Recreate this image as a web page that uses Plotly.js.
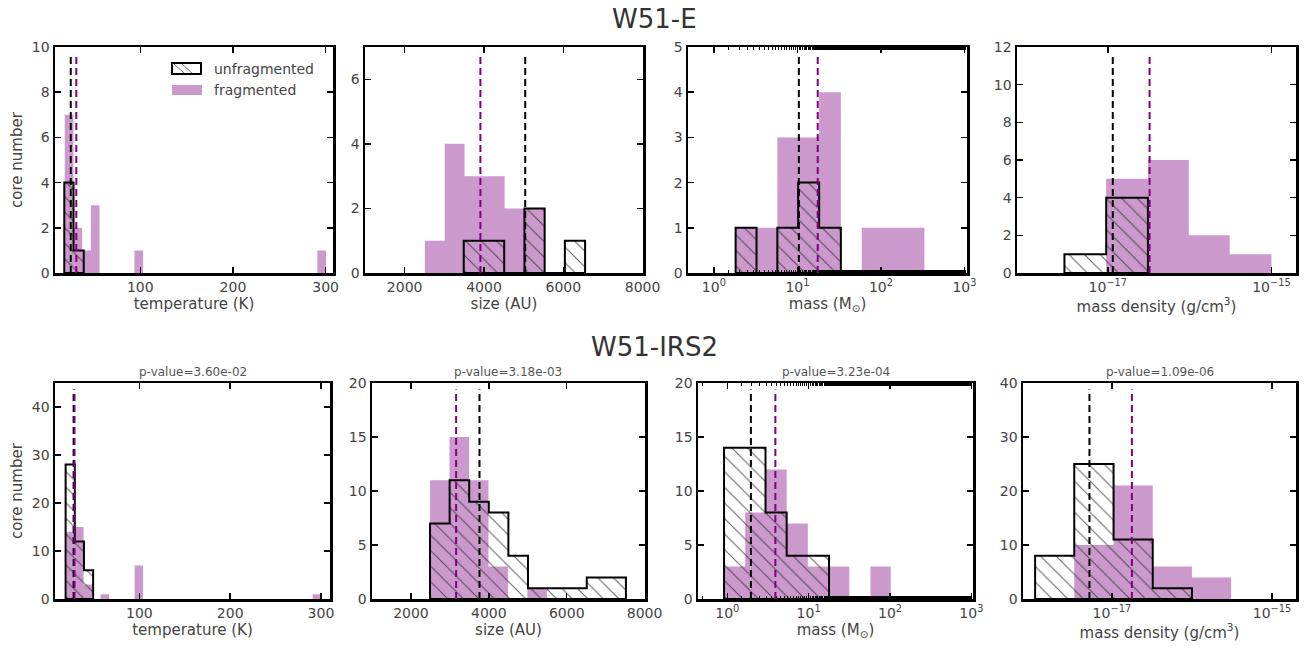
<!DOCTYPE html>
<html><head><meta charset="utf-8">
<script src="https://cdn.plot.ly/plotly-3.0.1.min.js"></script>
<style>html,body{margin:0;padding:0;background:#fff}#chart{width:1308px;height:652px}</style>
</head><body><div id="chart"></div>
<script>
// ---------------- W51-E (top row) ----------------
const eTempUnfragEdges = [18, 28, 39];
const eTempUnfragCounts = [4, 1];
const eTempFragEdges = [18.5, 27.9, 37.3, 46.7, 56.1, 93.7, 103.1, 291.1, 300.5];
const eTempFragCounts = [7, 2, 1, 3, 0, 1, 0, 1];
const eSizeUnfragEdges = [3490, 4000, 4510, 5020, 5530, 6040, 6550];
const eSizeUnfragCounts = [1, 1, 0, 2, 0, 1];
const eSizeFragEdges = [2510, 3010, 3510, 4020, 4520, 5020, 5520];
const eSizeFragCounts = [1, 4, 3, 3, 2, 2];
const eMassUnfragEdges = [1.82, 3.24, 5.75, 10.2, 18.2, 33.1];
const eMassUnfragCounts = [1, 0, 1, 2, 1];
const eMassFragEdges = [1.82, 3.24, 5.75, 10.2, 18.2, 33.1, 58.9, 104.7, 186, 331];
const eMassFragCounts = [1, 1, 3, 3, 4, 0, 1, 1, 1];
const eDensUnfragEdges = [2.95e-18, 9.55e-18, 3.09e-17];
const eDensUnfragCounts = [1, 4];
const eDensFragEdges = [9.55e-18, 3.09e-17, 9.77e-17, 3.09e-16, 1.0e-15];
const eDensFragCounts = [5, 6, 2, 1];
const eMedianUnfrag = [25, 5040, 10.4, 1.15e-17];
const eMedianFrag = [31, 3910, 17.5, 3.24e-17];

// ---------------- W51-IRS2 (bottom row) ----------------
const iTempUnfragEdges = [18.7, 28.8, 38.9, 49];
const iTempUnfragCounts = [28, 12, 6];
const iTempFragEdges = [19.8, 29.2, 38.5, 47.9, 57.2, 66.6, 94.7, 104.0, 290.9, 300.2];
const iTempFragCounts = [14, 15, 3, 0, 1, 0, 7, 0, 1];
const iSizeUnfragEdges = [2490, 2993, 3496, 3999, 4502, 5005, 5508, 6011, 6514, 7017, 7520];
const iSizeUnfragCounts = [7, 11, 9, 8, 4, 1, 1, 1, 2, 2];
const iSizeFragEdges = [2490, 2990, 3490, 3990, 4490, 4990, 5490];
const iSizeFragCounts = [11, 15, 11, 3, 0, 1];
const iMassUnfragEdges = [0.912, 1.66, 2.95, 5.37, 9.77, 17.8];
const iMassUnfragCounts = [14, 14, 8, 4, 4];
const iMassFragEdges = [0.912, 1.66, 2.95, 5.37, 9.77, 17.8, 31.6, 57.5, 102];
const iMassFragCounts = [3, 8, 12, 7, 3, 3, 0, 3];
const iDensUnfragEdges = [1.10e-18, 3.39e-18, 1.05e-17, 3.24e-17, 1.0e-16];
const iDensUnfragCounts = [8, 25, 11, 2];
const iDensFragEdges = [3.39e-18, 1.05e-17, 3.24e-17, 1.0e-16, 3.09e-16];
const iDensFragCounts = [10, 21, 6, 4];
const iMedianUnfrag = [27.5, 3760, 1.95, 5.25e-18];
const iMedianFrag = [28.5, 3160, 3.9, 1.78e-17];

const rowTitles = ['W51-E', 'W51-IRS2'];
const pValues = ['p-value=3.60e-02', 'p-value=3.18e-03', 'p-value=3.23e-04', 'p-value=1.09e-06'];
const xTitles = ['temperature (K)', 'size (AU)', 'mass (M<sub>⊙</sub>)', 'mass density (g/cm<sup>3</sup>)'];
const yTitle = 'core number';
const legendLabels = ['unfragmented', 'fragmented'];
const massTickVals = [1, 10, 100, 1000];
const massTickText = ['10<sup>0</sup>', '10<sup>1</sup>', '10<sup>2</sup>', '10<sup>3</sup>'];
const densTickVals = [1e-17, 1e-15];
const densTickText = ['10<sup>−17</sup>', '10<sup>−15</sup>'];

// ---------------- layout geometry (pixels) ----------------
const W = 1308, H = 652;
const panels = [
  {x: [55, 333], y: [47, 273]}, {x: [365, 643], y: [47, 273]},
  {x: [688, 967], y: [47, 273]}, {x: [1017, 1296], y: [47, 273]},
  {x: [55, 330], y: [383, 599]}, {x: [372, 645], y: [383, 599]},
  {x: [698, 973], y: [383, 599]}, {x: [1023, 1296], y: [383, 599]}
];
const PURPLE = '#800080';
const PURPLE_FILL = 'rgba(128,0,128,0.4)';
const FONT = 'DejaVu Sans';

function step(edges, counts) {
  const xs = [edges[0]], ys = [0];
  for (let i = 0; i < counts.length; i++) {
    xs.push(edges[i], edges[i + 1]);
    ys.push(counts[i], counts[i]);
  }
  xs.push(edges[edges.length - 1]); ys.push(0);
  xs.push(edges[0]); ys.push(0);
  return {xs, ys};
}

const hists = [
  [eTempFragEdges, eTempFragCounts, eTempUnfragEdges, eTempUnfragCounts],
  [eSizeFragEdges, eSizeFragCounts, eSizeUnfragEdges, eSizeUnfragCounts],
  [eMassFragEdges, eMassFragCounts, eMassUnfragEdges, eMassUnfragCounts],
  [eDensFragEdges, eDensFragCounts, eDensUnfragEdges, eDensUnfragCounts],
  [iTempFragEdges, iTempFragCounts, iTempUnfragEdges, iTempUnfragCounts],
  [iSizeFragEdges, iSizeFragCounts, iSizeUnfragEdges, iSizeUnfragCounts],
  [iMassFragEdges, iMassFragCounts, iMassUnfragEdges, iMassUnfragCounts],
  [iDensFragEdges, iDensFragCounts, iDensUnfragEdges, iDensUnfragCounts]
];
const medUnfrag = eMedianUnfrag.concat(iMedianUnfrag);
const medFrag = eMedianFrag.concat(iMedianFrag);

const xRanges = [[8, 308], [1000, 8010], [-0.31, 3.03], [-18.11, -14.7],
                 [7, 310], [1000, 8010], [-0.36, 3.02], [-18.11, -14.7]];
const xTypes = ['linear', 'linear', 'log', 'log', 'linear', 'linear', 'log', 'log'];
const yRanges = [[0, 10], [0, 7], [0, 5], [0, 12], [0, 45], [0, 20], [0, 20], [0, 40]];
const yDticks = [2, 2, 1, 2, 10, 5, 5, 10];

const data = [];
const shapes = [];
const annotations = [];
const layout = {
  width: W, height: H, margin: {l: 0, r: 0, t: 0, b: 0},
  paper_bgcolor: 'white', plot_bgcolor: 'white', showlegend: false,
  font: {family: FONT, color: '#333'}
};

for (let k = 0; k < 8; k++) {
  const id = k + 1;
  const xa = 'x' + id, ya = 'y' + id;
  const p = panels[k];
  const [fe, fc, ue, uc] = hists[k];
  const f = step(fe, fc), u = step(ue, uc);
  data.push({type: 'scatter', mode: 'lines', x: f.xs, y: f.ys, xaxis: xa, yaxis: ya,
    fill: 'toself', fillcolor: PURPLE_FILL, line: {width: 0, color: PURPLE_FILL},
    hoverinfo: 'skip', name: legendLabels[1]});
  data.push({type: 'scatter', mode: 'lines', x: u.xs, y: u.ys, xaxis: xa, yaxis: ya,
    fill: 'toself', fillcolor: 'rgba(0,0,0,0)',
    fillpattern: {shape: '\\', fgcolor: 'rgba(40,40,40,0.7)', bgcolor: 'rgba(0,0,0,0)', size: 11, solidity: 0.1},
    line: {width: 2, color: 'black'}, hoverinfo: 'skip', name: legendLabels[0]});

  const col = k % 4;
  const xaxis = {
    domain: [p.x[0] / W, p.x[1] / W], anchor: ya, type: xTypes[k], range: xRanges[k],
    showline: true, linecolor: 'black', linewidth: 2.5, mirror: 'allticks',
    ticks: 'inside', ticklen: 6, tickwidth: 1.5, tickcolor: 'black',
    showgrid: false, zeroline: false,
    tickfont: {family: FONT, size: 14, color: '#444'},
    title: {text: xTitles[col], font: {family: FONT, size: 15, color: '#444'}, standoff: 2}
  };
  if (col === 0) { xaxis.tickvals = [100, 200, 300]; }
  if (col === 1) { xaxis.tickvals = [2000, 4000, 6000, 8000]; }
  if (col === 2) {
    xaxis.tickvals = massTickVals; xaxis.ticktext = massTickText;
    xaxis.minor = {ticks: 'inside', ticklen: 3, tickwidth: 1, tickcolor: 'black', showgrid: false};
  }
  if (col === 3) { xaxis.tickvals = densTickVals; xaxis.ticktext = densTickText; }
  const yaxis = {
    domain: [1 - p.y[1] / H, 1 - p.y[0] / H], anchor: xa, range: yRanges[k], dtick: yDticks[k],
    showline: true, linecolor: 'black', linewidth: 2.5, mirror: 'allticks',
    ticks: 'inside', ticklen: 6, tickwidth: 1.5, tickcolor: 'black',
    showgrid: false, zeroline: false,
    tickfont: {family: FONT, size: 14, color: '#444'}
  };
  if (col === 0) yaxis.title = {text: yTitle, font: {family: FONT, size: 15, color: '#444'}, standoff: 6};
  layout['xaxis' + (id === 1 ? '' : id)] = xaxis;
  layout['yaxis' + (id === 1 ? '' : id)] = yaxis;

  // medians
  shapes.push({type: 'line', xref: xa, yref: ya + ' domain', x0: medUnfrag[k], x1: medUnfrag[k], y0: 0, y1: 0.97,
    line: {color: 'black', width: 2, dash: '7px,4px'}});
  shapes.push({type: 'line', xref: xa, yref: ya + ' domain', x0: medFrag[k], x1: medFrag[k], y0: 0, y1: 0.97,
    line: {color: PURPLE, width: 2, dash: '7px,4px'}});

  if (k >= 4) {
    annotations.push({text: pValues[k - 4], xref: 'paper', yref: 'paper',
      x: (p.x[0] + p.x[1]) / 2 / W, y: 1 - (p.y[0] - 2) / H, xanchor: 'center', yanchor: 'bottom',
      showarrow: false, font: {family: FONT, size: 12, color: '#555'}});
  }
}

// row titles
annotations.push({text: rowTitles[0], xref: 'paper', yref: 'paper', x: 654 / W, y: 1 - 19 / H,
  xanchor: 'center', yanchor: 'middle', showarrow: false, font: {family: FONT, size: 26, color: '#333'}});
annotations.push({text: rowTitles[1], xref: 'paper', yref: 'paper', x: 654 / W, y: 1 - 347 / H,
  xanchor: 'center', yanchor: 'middle', showarrow: false, font: {family: FONT, size: 26, color: '#333'}});

// manual legend in the first panel
function px(x) { return x / W; }
function py(y) { return 1 - y / H; }
shapes.push({type: 'rect', xref: 'paper', yref: 'paper', x0: px(172), x1: px(201), y0: py(74), y1: py(63),
  line: {color: 'black', width: 2}, fillcolor: 'rgba(0,0,0,0)'});
shapes.push({type: 'path', xref: 'paper', yref: 'paper',
  path: 'M ' + px(182) + ',' + py(64) + ' L ' + px(192) + ',' + py(73) + ' M ' + px(174) + ',' + py(64) + ' L ' + px(184) + ',' + py(73),
  line: {color: 'rgba(60,60,60,0.7)', width: 1}});
shapes.push({type: 'rect', xref: 'paper', yref: 'paper', x0: px(172), x1: px(202), y0: py(95), y1: py(85),
  line: {width: 0}, fillcolor: PURPLE_FILL});
annotations.push({text: legendLabels[0], xref: 'paper', yref: 'paper', x: px(212), y: py(69),
  xanchor: 'left', yanchor: 'middle', showarrow: false, font: {family: FONT, size: 14, color: '#444'}});
annotations.push({text: legendLabels[1], xref: 'paper', yref: 'paper', x: px(212), y: py(90),
  xanchor: 'left', yanchor: 'middle', showarrow: false, font: {family: FONT, size: 14, color: '#444'}});

layout.shapes = shapes;
layout.annotations = annotations;

Plotly.newPlot('chart', data, layout, {displayModeBar: false, staticPlot: true});
</script>
</body></html>
